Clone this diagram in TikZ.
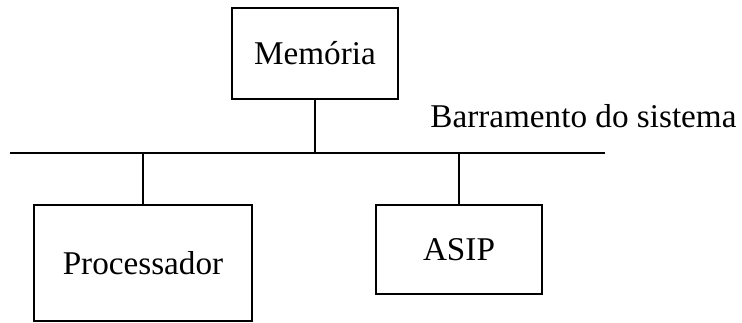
\documentclass[tikz,border=0pt]{standalone}
\usepackage{fontspec}
\setmainfont{Liberation Serif}
\usetikzlibrary{positioning}
\definecolor{LineBlack}{HTML}{000000}

\begin{document}
\begin{tikzpicture}[
	x=0.5pt, y=-0.5pt,
	unit/.style={
		draw=LineBlack,
		line width=0.9pt,
		inner sep=0pt,
		outer sep=0pt,
		align=center,
		font=\fontsize{16.6pt}{20pt}\selectfont
	},
	bus/.style={
		line width=1.4pt,
		draw=LineBlack
	},
	tap/.style={
		line width=0.9pt,
		draw=LineBlack
	}
]

\fill[white] (0,0) rectangle (742,322);
\useasboundingbox (0,0) rectangle (742,322);

\node[unit, minimum width=83pt, minimum height=45.5pt] (memoria) at (315,53.5) {Mem\'oria};

\coordinate (busL) at (10,153);
\coordinate (busR) at (605,153);
\draw[bus] (busL) -- (busR);

\node[font=\fontsize{16.6pt}{20pt}\selectfont, inner sep=0pt, anchor=west] (busname) at (430,116)
	{Barramento do sistema};

\node[unit, minimum width=109pt, minimum height=58pt] (cpu) at (143,263) {Processador};

\node[unit, minimum width=83pt, minimum height=44.5pt] (asip) at (459,249.5) {ASIP};

\draw[tap] (memoria.south) -- (memoria.south |- busL);
\draw[tap] (cpu.north) -- (cpu.north |- busL);
\draw[tap] (asip.north) -- (asip.north |- busL);

\end{tikzpicture}
\end{document}
